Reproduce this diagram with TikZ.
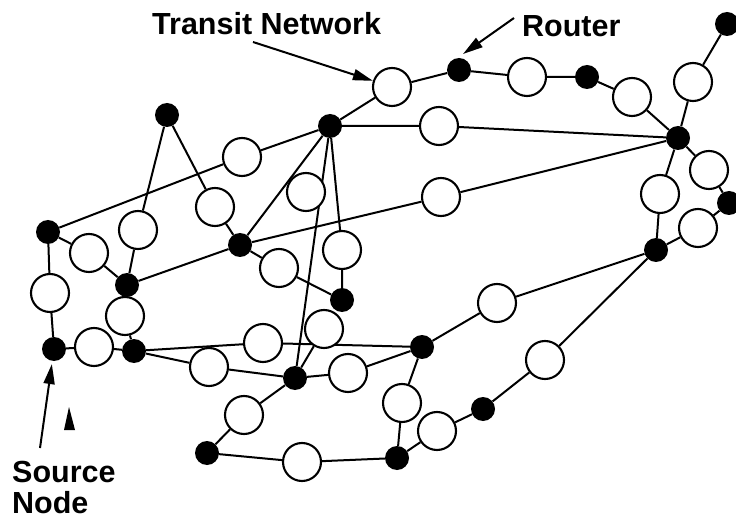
\documentclass[tikz,border=0pt]{standalone}
\usepackage{fontspec}
\setmainfont{Liberation Sans}
\usetikzlibrary{arrows.meta,backgrounds}
\tikzset{
	rtr/.style={circle, fill=black, minimum size=24pt, inner sep=0pt},
	hst/.style={circle, draw, fill=white, line width=2.1pt, minimum size=38pt, inner sep=0pt},
	lnk/.style={line width=2pt},
	lbl/.style={font=\fontsize{30.5}{31}\selectfont\bfseries, inner sep=0pt, anchor=base west},
	arr/.style={line width=2pt, -{Triangle[length=20pt,width=11pt]}}
}
\begin{document}
\begin{tikzpicture}[x=1pt, y=-1pt]
	\useasboundingbox (0,0) rectangle (736,521);
	% routers
	\node[rtr] (r1) at (727,24) {};
	\node[rtr] (r2) at (459,70) {};
	\node[rtr] (r3) at (587,77) {};
	\node[rtr] (r4) at (330,126) {};
	\node[rtr] (r5) at (167,115) {};
	\node[rtr] (r6) at (678,138) {};
	\node[rtr] (r7) at (729,203) {};
	\node[rtr] (r8) at (656,250) {};
	\node[rtr] (r9) at (48,232) {};
	\node[rtr] (r10) at (240,245) {};
	\node[rtr] (r11) at (127,285) {};
	\node[rtr] (r12) at (342,300) {};
	\node[rtr] (r13) at (54,349) {};
	\node[rtr] (r14) at (134,351) {};
	\node[rtr] (r15) at (295,378) {};
	\node[rtr] (r16) at (422,347) {};
	\node[rtr] (r17) at (483,409) {};
	\node[rtr] (r18) at (397,458) {};
	\node[rtr] (r19) at (207,453) {};
	% transit nodes
	\node[hst] (t1) at (392,87) {};
	\node[hst] (t2) at (527,77) {};
	\node[hst] (t3) at (632,97) {};
	\node[hst] (t4) at (693,82) {};
	\node[hst] (t5) at (439,126) {};
	\node[hst] (t6) at (242,157) {};
	\node[hst] (t7) at (709,170) {};
	\node[hst] (t8) at (660,194) {};
	\node[hst] (t9) at (306,192) {};
	\node[hst] (t10) at (215,207) {};
	\node[hst] (t11) at (441,197) {};
	\node[hst] (t12) at (698,228) {};
	\node[hst] (t13) at (138,230) {};
	\node[hst] (t14) at (89,253) {};
	\node[hst] (t15) at (342,250) {};
	\node[hst] (t16) at (279,268) {};
	\node[hst] (t17) at (50,293) {};
	\node[hst] (t18) at (125,316) {};
	\node[hst] (t19) at (497,303) {};
	\node[hst] (t20) at (324,329) {};
	\node[hst] (t21) at (94,347) {};
	\node[hst] (t22) at (263,343) {};
	\node[hst] (t23) at (209,367) {};
	\node[hst] (t24) at (348,373) {};
	\node[hst] (t25) at (545,360) {};
	\node[hst] (t26) at (402,403) {};
	\node[hst] (t27) at (244,415) {};
	\node[hst] (t28) at (437,431) {};
	\node[hst] (t29) at (302,462) {};
	% links
	\begin{scope}[on background layer]
		\draw[lnk] (r1) -- (t4) -- (r6);
		\draw[lnk] (r4) -- (t1) -- (r2) -- (t2) -- (r3) -- (t3) -- (r6);
		\draw[lnk] (r4) -- (t5) -- (r6);
		\draw[lnk] (r6) -- (t7) -- (r7) -- (t12) -- (r8);
		\draw[lnk] (r6) -- (t8) -- (r8);
		\draw[lnk] (r11) -- (r10) -- (t11) -- (r6);
		\draw[lnk] (r9) -- (t6) -- (r4);
		\draw[lnk] (r5) -- (t10) -- (r10);
		\draw[lnk] (r5) -- (t13) -- (r11);
		\draw[lnk] (r4) -- (r10);
		\draw[lnk] (r4) -- (r15);
		\draw[lnk] (r4) -- (t15) -- (r12);
		\draw[lnk] (r10) -- (t16) -- (r12);
		\draw[lnk] (r9) -- (t14) -- (r11);
		\draw[lnk] (r9) -- (t17) -- (r13) -- (t21) -- (r14) -- (t18);
		\draw[lnk] (r14) -- (t22) -- (r16);
		\draw[lnk] (r14) -- (t23) -- (r15) -- (t20);
		\draw[lnk] (r15) -- (t24) -- (r16);
		\draw[lnk] (r15) -- (t27) -- (r19) -- (t29) -- (r18);
		\draw[lnk] (r16) -- (t26) -- (r18) -- (t28) -- (r17) -- (t25) -- (r8);
		\draw[lnk] (r16) -- (t19) -- (r8);
	\end{scope}
	% labels
	\node[lbl] (trn) at (152,35) {Transit Network};
	\node[lbl] (rtl) at (522,37) {Router};
	\node[lbl, align=left, text depth=0pt] (src) at (12,513) {Source\\Node};
	\coordinate (trnA) at (253,42);
	\coordinate (rtlA) at (514,18);
	\coordinate (rtlB) at (463,54);
	\coordinate (srcA) at (40,448);
	\draw[arr] (trnA) -- (t1);
	\draw[arr] (rtlA) -- (rtlB);
	\draw[arr, shorten >=3pt] (srcA) -- (r13);
	\fill (69,407) -- (75,430) -- (64,430) -- cycle;
\end{tikzpicture}
\end{document}
